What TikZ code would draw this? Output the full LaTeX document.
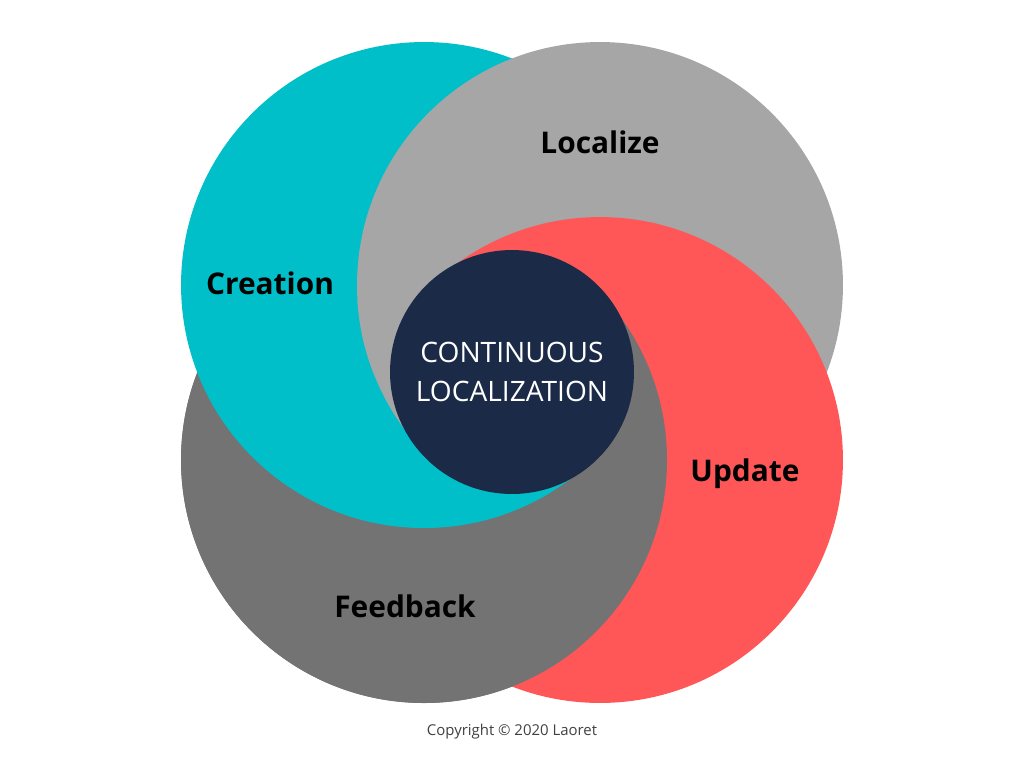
\documentclass[tikz,border=0pt]{standalone}
\usepackage{fontspec}
\setmainfont{Open Sans}
\usetikzlibrary{positioning}
\definecolor{cteal}{HTML}{00BFC8}
\definecolor{clight}{HTML}{A6A6A6}
\definecolor{cred}{HTML}{FF5757}
\definecolor{cdark}{HTML}{737373}
\definecolor{cnavy}{HTML}{1B2A47}
\begin{document}
\begin{tikzpicture}[
    x=0.02cm, y=-0.02cm,
    ring/.style = {
        circle,
        minimum size=9.72cm,
        inner sep=0pt
    },
    label/.style = {
        font=\fontsize{17}{20}\selectfont\bfseries
    }
]
  \useasboundingbox (0,0) rectangle (1024,768);

  \node[ring, fill=cdark] (feedback) at (424,460) {};
  \node[ring, fill=cteal] (creation) at (424,285) {};
  \node[ring, fill=clight] (localize) at (600,285) {};
  \node[ring, fill=cred] (update) at (600,460) {};
  % the dark ring lies over the red one in the lower part
  \begin{scope}
    \clip (0,372) -- (560,372) -- (560,300) -- (1024,300) -- (1024,768) -- (0,768) -- cycle;
    \fill[cdark] (424,460) circle (243);
  \end{scope}
  % teal lies over the dark ring on the lower left
  \begin{scope}
    \clip (424,460) circle (243);
    \clip (0,372) rectangle (585,768);
    \fill[cteal] (424,285) circle (243);
  \end{scope}
  % the light ring lies over teal and red on the left
  \begin{scope}
    \clip (300,300) rectangle (420,440);
    \fill[clight] (600,285) circle (243);
  \end{scope}

  \node[circle, fill=cnavy, minimum size=4.88cm, inner sep=0pt] (core) at (512,372) {};
  \node[text=white, align=center, font=\fontsize{16}{22}\selectfont] (coretext) at (core) {CONTINUOUS\\LOCALIZATION};

  \node[label] (tcreation) at (270,283) {Creation};
  \node[label] (tlocalize) at (600,142) {Localize};
  \node[label] (tupdate) at (745,474) {Update};
  \node[label] (tfeedback) at (405,606) {Feedback};
  \node[font=\fontsize{8.5}{10}\selectfont, text=black!75] (copy) at (512,732) {Copyright © 2020 Laoret};
\end{tikzpicture}
\end{document}
